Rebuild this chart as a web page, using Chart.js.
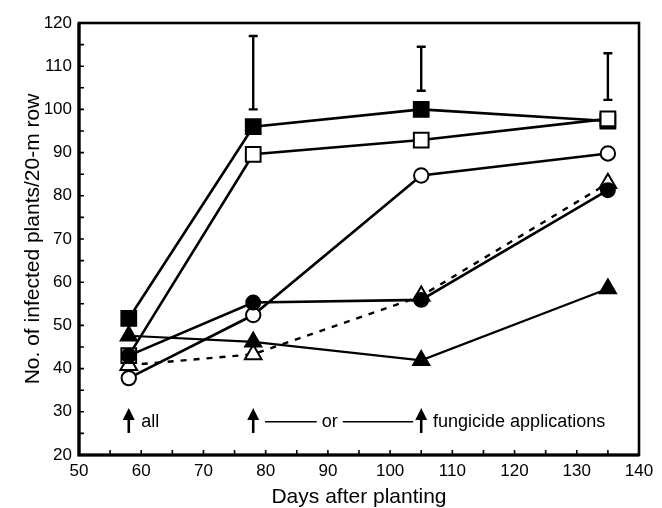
<!DOCTYPE html>
<html>
<head>
<meta charset="utf-8">
<script src="https://cdn.jsdelivr.net/npm/chart.js@4"></script>
<style>
  html, body { margin: 0; padding: 0; background: #fff; }
  #c { display: block; }
</style>
</head>
<body>
<canvas id="c" width="662" height="508"></canvas>
<script>
// ---- data ----
const days = [58, 78, 105, 135];
const filledSquare   = [51.6, 96.0, 100.0, 97.3];
const openSquare     = [43.0, 89.6, 92.9, 97.8];
const openCircle     = [37.8, 52.4, 84.7, 89.8];
const filledCircle   = [43.0, 55.3, 55.9, 81.3];
const openTriangle   = [40.8, 43.3, 56.8, 82.9];
const filledTriangle = [47.6, 46.2, 41.9, 58.5];

const errDays = [78, 105, 135];
const errLow  = [100.0, 104.3, 102.2];
const errHigh = [117.0, 114.5, 113.0];

const arrowDays = [58, 78, 105];
const arrowBottom = 25.1;
const arrowTip = 30.9;
const noteY = 27.7;
const noteAll = { x: 60, text: 'all' };
const noteOr = { x: 90.3, text: 'or', lineFrom: 79.9, lineTo: 103.7 };
const noteFung = { x: 106.9, text: 'fungicide applications' };

const xMin = 50, xMax = 140, yMin = 20, yMax = 120;
const xTitle = 'Days after planting';
const yTitle = 'No. of infected plants/20-m row';

const FONT = "'Liberation Sans', Arial, Helvetica, sans-serif";

function pts(ys) { return days.map((d, i) => ({ x: d, y: ys[i] })); }

function ds(label, ys, style, filled, radius, order, extra) {
  return Object.assign({
    label: label,
    data: pts(ys),
    borderColor: '#000',
    backgroundColor: filled ? '#000' : '#fff',
    pointStyle: style,
    pointRadius: radius,
    pointBorderWidth: filled ? 1.5 : 2,
    pointBorderColor: '#000',
    pointBackgroundColor: filled ? '#000' : '#fff',
    borderWidth: 2.6,
    tension: 0,
    fill: false,
    order: order
  }, extra || {});
}

const frame = {
  id: 'frame',
  beforeDatasetsDraw(chart) {
    const { ctx, chartArea: a, scales: { x, y } } = chart;
    ctx.save();
    ctx.strokeStyle = '#000';
    ctx.lineWidth = 1.6;
    ctx.beginPath();
    x.ticks.forEach(t => {
      const px = x.getPixelForValue(t.value);
      if (t.value === xMin || t.value === xMax) return;
      ctx.moveTo(px, a.bottom);
      ctx.lineTo(px, a.bottom - 5);
    });
    y.ticks.forEach(t => {
      const py = y.getPixelForValue(t.value);
      if (t.value === yMin || t.value === yMax) return;
      ctx.moveTo(a.left, py);
      ctx.lineTo(a.left + 5, py);
    });
    ctx.stroke();
    ctx.lineWidth = 2.6;
    ctx.strokeRect(a.left, a.top, a.right - a.left, a.bottom - a.top);
    ctx.lineWidth = 3.2;
    ctx.beginPath();
    ctx.moveTo(a.left, a.top);
    ctx.lineTo(a.left, a.bottom);
    ctx.lineTo(a.right, a.bottom);
    ctx.stroke();
    ctx.restore();
  },
  afterDatasetsDraw(chart) {
    const { ctx, scales: { x, y } } = chart;
    ctx.save();
    ctx.strokeStyle = '#000';
    ctx.fillStyle = '#000';
    ctx.lineWidth = 2.4;
    errDays.forEach((d, i) => {
      const px = x.getPixelForValue(d);
      const y1 = y.getPixelForValue(errLow[i]);
      const y2 = y.getPixelForValue(errHigh[i]);
      ctx.beginPath();
      ctx.moveTo(px, y1); ctx.lineTo(px, y2);
      ctx.moveTo(px - 4.5, y1); ctx.lineTo(px + 4.5, y1);
      ctx.moveTo(px - 4.5, y2); ctx.lineTo(px + 4.5, y2);
      ctx.stroke();
    });
    arrowDays.forEach(d => {
      const px = x.getPixelForValue(d);
      const yb = y.getPixelForValue(arrowBottom);
      const yt = y.getPixelForValue(arrowTip);
      ctx.lineWidth = 2.6;
      ctx.beginPath();
      ctx.moveTo(px, yb); ctx.lineTo(px, yt + 8);
      ctx.stroke();
      ctx.beginPath();
      ctx.moveTo(px, yt);
      ctx.lineTo(px - 6, yt + 12);
      ctx.lineTo(px + 6, yt + 12);
      ctx.closePath();
      ctx.fill();
    });
    ctx.font = '18px ' + FONT;
    ctx.textBaseline = 'middle';
    const ny = y.getPixelForValue(noteY);
    ctx.textAlign = 'left';
    ctx.fillText(noteAll.text, x.getPixelForValue(noteAll.x), ny);
    ctx.fillText(noteFung.text, x.getPixelForValue(noteFung.x), ny);
    ctx.textAlign = 'center';
    const ox = x.getPixelForValue(noteOr.x);
    ctx.fillText(noteOr.text, ox, ny);
    const w = ctx.measureText(noteOr.text).width;
    ctx.lineWidth = 1.3;
    ctx.beginPath();
    ctx.moveTo(x.getPixelForValue(noteOr.lineFrom), ny);
    ctx.lineTo(ox - w / 2 - 5, ny);
    ctx.moveTo(ox + w / 2 + 5, ny);
    ctx.lineTo(x.getPixelForValue(noteOr.lineTo), ny);
    ctx.stroke();
    ctx.restore();
  }
};

new Chart(document.getElementById('c'), {
  type: 'line',
  data: {
    datasets: [
      ds('filled circle', filledCircle, 'circle', true, 7.2, 0),
      ds('open square', openSquare, 'rect', false, 10.4, 1),
      ds('filled square', filledSquare, 'rect', true, 10.8, 2),
      ds('open circle', openCircle, 'circle', false, 7.2, 3),
      ds('filled triangle', filledTriangle, 'triangle', true, 9.8, 4, { borderWidth: 2.2 }),
      ds('open triangle', openTriangle, 'triangle', false, 9.6, 5, { borderDash: [6, 7], borderWidth: 2.4 })
    ]
  },
  options: {
    responsive: false,
    animation: false,
    devicePixelRatio: 1,
    layout: { padding: { top: 23, right: 23, left: 0, bottom: 0 } },
    plugins: { legend: { display: false }, tooltip: { enabled: false } },
    scales: {
      x: {
        type: 'linear',
        min: xMin, max: xMax,
        afterFit(s) { s.height = 53; },
        border: { display: false },
        grid: { display: false, drawTicks: false },
        ticks: {
          stepSize: 5,
          autoSkip: false,
          maxRotation: 0,
          padding: 6,
          color: '#000',
          font: { family: FONT, size: 17 },
          callback: v => (v % 10 === 0 ? String(v) : '')
        },
        title: {
          display: true,
          text: xTitle,
          color: '#000',
          font: { family: FONT, size: 21 },
          padding: { top: 0, bottom: -2 }
        }
      },
      y: {
        type: 'linear',
        min: yMin, max: yMax,
        afterFit(s) { s.width = 79; },
        border: { display: false },
        grid: { display: false, drawTicks: false },
        ticks: {
          stepSize: 5,
          autoSkip: false,
          padding: 7,
          color: '#000',
          font: { family: FONT, size: 17 },
          callback: v => (v % 10 === 0 ? String(v) : '')
        },
        title: {
          display: true,
          text: yTitle,
          color: '#000',
          font: { family: FONT, size: 21 },
          padding: { top: 21, bottom: 0 }
        }
      }
    }
  },
  plugins: [frame]
});
</script>
</body>
</html>
